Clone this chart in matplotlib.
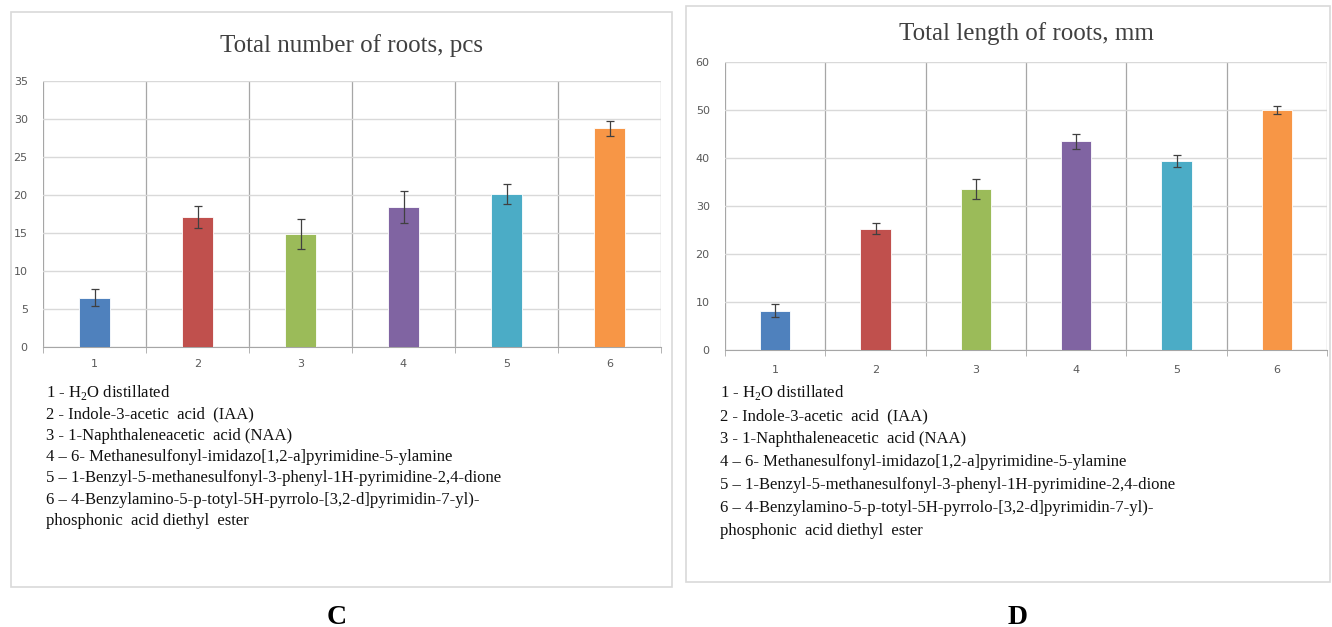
import matplotlib
matplotlib.use("Agg")
import matplotlib.pyplot as plt
from matplotlib.patches import Rectangle
import numpy as np

W, H = 1332, 627

categories = ["1", "2", "3", "4", "5", "6"]
bar_colors = ["#4F81BD", "#C0504D", "#9BBB59", "#8064A2", "#4BACC6", "#F79646"]

# panel C - total number of roots, pcs
count_values = [6.5, 17.1, 14.9, 18.4, 20.1, 28.8]
count_errors = [1.1, 1.5, 2.0, 2.1, 1.3, 1.0]

# panel D - total length of roots, mm
length_values = [8.2, 25.3, 33.6, 43.5, 39.4, 50.0]
length_errors = [1.3, 1.1, 2.1, 1.6, 1.3, 0.9]

legend_lines = [
    "1 - H$_2$O distillated",
    "2 - Indole-3-acetic  acid  (IAA)",
    "3 - 1-Naphthaleneacetic  acid (NAA)",
    "4 \u2013 6- Methanesulfonyl-imidazo[1,2-a]pyrimidine-5-ylamine",
    "5 \u2013 1-Benzyl-5-methanesulfonyl-3-phenyl-1H-pyrimidine-2,4-dione",
    "6 \u2013 4-Benzylamino-5-p-totyl-5H-pyrrolo-[3,2-d]pyrimidin-7-yl)-",
    "phosphonic  acid diethyl  ester",
]

plt.rcParams["mathtext.fontset"] = "custom"
plt.rcParams["mathtext.rm"] = "Liberation Serif"

fig = plt.figure(figsize=(W / 100, H / 100), dpi=100)


def px_axes(left, top, right, bottom):
    # pixel box -> figure fraction axes
    return fig.add_axes([left / W, 1 - bottom / H, (right - left) / W, (bottom - top) / H])


def px(x, y):
    return x / W, 1 - y / H


def panel(box, ax_box, title, title_y, values, errors, ymax, ystep, leg_y, leg_x, leg_step, tick_y, label, label_xy):
    bx0, by0, bx1, by1 = box
    fig.patches.append(Rectangle((bx0 / W, 1 - by1 / H), (bx1 - bx0) / W, (by1 - by0) / H,
                                 transform=fig.transFigure, facecolor="none",
                                 edgecolor="#D9D9D9", linewidth=1.2, zorder=-1))
    ax = px_axes(*ax_box)
    x = np.arange(len(categories))
    ax.bar(x, values, width=0.3, color=bar_colors, edgecolor="white", linewidth=0.6, zorder=3)
    ax.errorbar(x, values, yerr=errors, fmt="none", ecolor="#404040", elinewidth=0.9,
                capsize=3, capthick=0.9, zorder=4)
    ax.set_xlim(-0.5, len(categories) - 0.5)
    ax.set_ylim(0, ymax)
    ax.set_yticks(np.arange(0, ymax + 1, ystep))
    ax.set_xticks(x)
    ax.set_xticklabels([])
    ax.set_xticks(np.arange(-0.5, len(categories)), minor=True)
    ax.grid(axis="y", color="#D9D9D9", linewidth=1.0, zorder=0)
    ax.grid(axis="x", which="minor", color="#A6A6A6", linewidth=0.9, zorder=1)
    ax.grid(axis="x", which="major", visible=False)
    ax.set_axisbelow(True)
    ax.tick_params(axis="y", length=0, pad=11, labelsize=8, labelcolor="#595959")
    ax.tick_params(axis="x", which="major", length=0)
    ax.tick_params(axis="x", which="minor", length=4, color="#A6A6A6")
    for s in ["top", "right", "left"]:
        ax.spines[s].set_visible(False)
    ax.spines["bottom"].set_color("#A6A6A6")
    ax.set_facecolor("none")
    for xi, c in zip(x, categories):
        ax.annotate(c, (xi, 0), xycoords=("data", "axes fraction"), xytext=(0, -(tick_y - ax_box[3])),
                    textcoords="offset pixels", ha="center", va="center", fontsize=8, color="#595959")

    cx = (ax_box[0] + ax_box[2]) / 2
    fig.text(*px(cx, title_y), title, ha="center", va="center", fontsize=18,
             family="Liberation Serif", color="#404040")
    for i, line in enumerate(legend_lines):
        fig.text(*px(leg_x, leg_y + i * leg_step), line, ha="left", va="center", fontsize=12,
                 family="Liberation Serif", color="#111111")
    fig.text(*px(*label_xy), label, ha="center", va="center", fontsize=20, fontweight="bold",
             family="Liberation Serif")
    return ax


panel((11, 12, 672, 587), (43, 81, 661, 347), "Total number of roots, pcs", 46,
      count_values, count_errors, 35, 5, 393, 46, 21.3, 364, "C", (337, 617))
panel((686, 6, 1330, 582), (725, 62, 1327, 350), "Total length of roots, mm", 34,
      length_values, length_errors, 60, 10, 393, 720, 23, 370, "D", (1018, 617))

fig.savefig("out.png", dpi=100, facecolor="white")
